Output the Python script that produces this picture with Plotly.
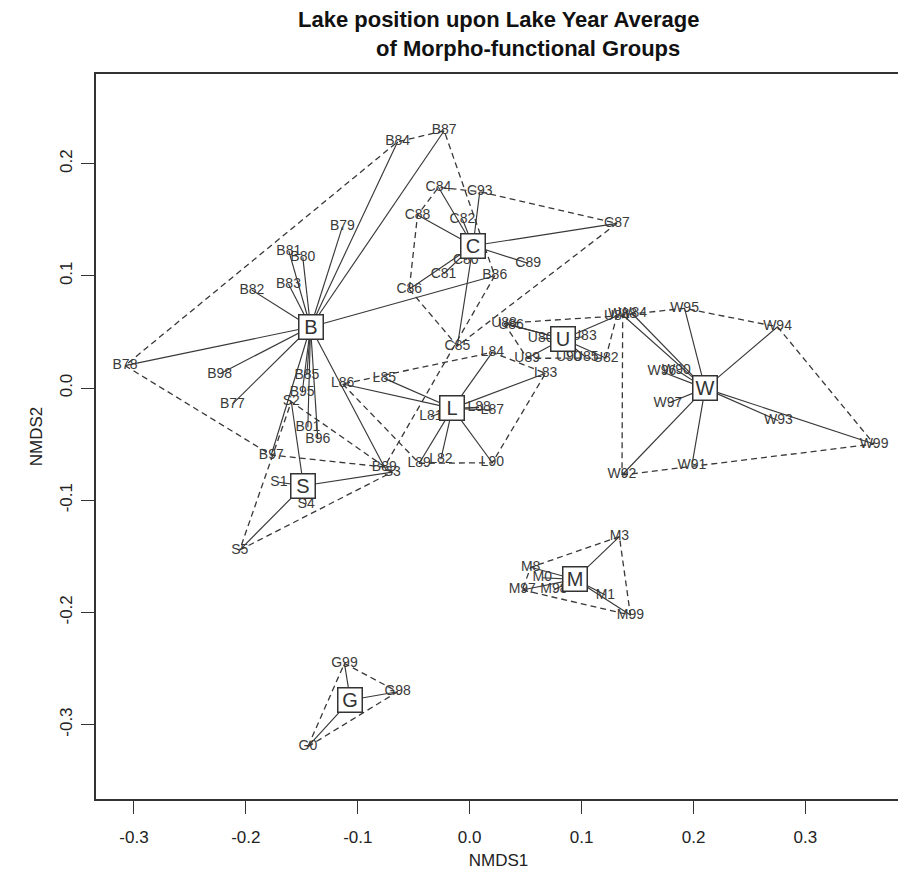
import plotly.graph_objects as go

# ---------------- data (NMDS scores) ----------------
B_labels = ["B78", "B84", "B87", "B86", "B79", "B81", "B80", "B83", "B82", "B98", "B77",
            "B85", "B95", "B01", "B96", "B97", "B89"]
B_x = [-0.308, -0.0644, -0.0228, 0.0224, -0.1137, -0.1616, -0.1491, -0.1619, -0.1946, -0.2234,
       -0.2120, -0.1455, -0.1497, -0.1446, -0.1357, -0.1773, -0.0763]
B_y = [0.020, 0.2195, 0.2293, 0.1001, 0.1438, 0.1221, 0.1165, 0.0927, 0.0873, 0.0125,
       -0.0143, 0.0116, -0.0042, -0.0350, -0.0457, -0.0597, -0.0704]

C_labels = ["C84", "C93", "C88", "C82", "C87", "C89", "C80", "C81", "C86", "C85"]
C_x = [-0.0279, 0.0090, -0.0466, -0.0065, 0.1316, 0.0523, -0.0035, -0.0234, -0.0540, -0.0110]
C_y = [0.1789, 0.1750, 0.1542, 0.1504, 0.1468, 0.1111, 0.1141, 0.1016, 0.0880, 0.0374]

U_labels = ["U88", "U86", "U80", "U83", "U89", "U90", "U85", "U82", "U84"]
U_x = [0.0307, 0.0369, 0.0634, 0.1020, 0.0514, 0.0885, 0.1036, 0.1216, 0.1314]
U_y = [0.0577, 0.0561, 0.0443, 0.0457, 0.0265, 0.0276, 0.0276, 0.0267, 0.0642]

W_labels = ["W88", "W84", "W95", "W94", "W96", "W90", "W97", "W93", "W99", "W91", "W92"]
W_x = [0.1367, 0.1456, 0.1920, 0.2751, 0.1717, 0.1848, 0.1771, 0.2758, 0.3613, 0.1985, 0.1361]
W_y = [0.0651, 0.0660, 0.0710, 0.0546, 0.0145, 0.0160, -0.0136, -0.0291, -0.0499, -0.0693, -0.0775]

L_labels = ["L84", "L83", "L86", "L85", "L81", "L88", "L87", "L89", "L82", "L90"]
L_x = [0.0202, 0.0678, -0.1135, -0.0763, -0.0347, 0.0084, 0.0202, -0.0451, -0.0258, 0.0202]
L_y = [0.0318, 0.0131, 0.0036, 0.0086, -0.0256, -0.0172, -0.0196, -0.0671, -0.0635, -0.0666]

S_labels = ["S1", "S2", "S3", "S4", "S5"]
S_x = [-0.1705, -0.1594, -0.0692, -0.1461, -0.2055]
S_y = [-0.0840, -0.0122, -0.0749, -0.1034, -0.1444]

M_labels = ["M3", "M8", "M0", "M97", "M98", "M1", "M99"]
M_x = [0.1338, 0.0545, 0.0648, 0.0470, 0.0752, 0.1213, 0.1436]
M_y = [-0.1325, -0.1598, -0.1691, -0.1800, -0.1800, -0.1845, -0.2023]

G_labels = ["G99", "G98", "G0"]
G_x = [-0.1119, -0.0644, -0.1446]
G_y = [-0.2454, -0.2707, -0.3197]

group_names = ["B", "C", "U", "W", "L", "S", "M", "G"]
centroid_x = [-0.1422, 0.0030, 0.0835, 0.2104, -0.0154, -0.1485, 0.0939, -0.1066]
centroid_y = [0.0544, 0.1268, 0.0437, -0.0003, -0.0181, -0.0871, -0.1705, -0.2781]

x_ticks = [-0.3, -0.2, -0.1, 0.0, 0.1, 0.2, 0.3]
y_ticks = [-0.3, -0.2, -0.1, 0.0, 0.1, 0.2]
tick_text_x = ["-0.3", "-0.2", "-0.1", "0.0", "0.1", "0.2", "0.3"]
tick_text_y = ["-0.3", "-0.2", "-0.1", "0.0", "0.1", "0.2"]

groups = {
    "B": (B_labels, B_x, B_y), "C": (C_labels, C_x, C_y), "U": (U_labels, U_x, U_y),
    "W": (W_labels, W_x, W_y), "L": (L_labels, L_x, L_y), "S": (S_labels, S_x, S_y),
    "M": (M_labels, M_x, M_y), "G": (G_labels, G_x, G_y),
}

# ---------------- helpers ----------------
def convex_hull(pts):
    pts = sorted(set(pts))
    if len(pts) <= 2:
        return pts
    def cross(o, a, b):
        return (a[0] - o[0]) * (b[1] - o[1]) - (a[1] - o[1]) * (b[0] - o[0])
    lower, upper = [], []
    for p in pts:
        while len(lower) >= 2 and cross(lower[-2], lower[-1], p) <= 0:
            lower.pop()
        lower.append(p)
    for p in reversed(pts):
        while len(upper) >= 2 and cross(upper[-2], upper[-1], p) <= 0:
            upper.pop()
        upper.append(p)
    return lower[:-1] + upper[:-1]

LINE_COL = "#383838"
TEXT_COL = "#3a3a3a"
FONT = "Liberation Sans, Arial, sans-serif"

fig = go.Figure()

for gi, g in enumerate(group_names):
    labels, xs, ys = groups[g]
    cx, cy = centroid_x[gi], centroid_y[gi]
    hull = convex_hull(list(zip(xs, ys)))
    hx = [p[0] for p in hull] + [hull[0][0]]
    hy = [p[1] for p in hull] + [hull[0][1]]
    fig.add_trace(go.Scatter(x=hx, y=hy, mode="lines",
                             line=dict(color=LINE_COL, width=1.3, dash="6px,4px"),
                             hoverinfo="skip", showlegend=False))
    sx, sy = [], []
    for x, y in zip(xs, ys):
        sx += [cx, x, None]
        sy += [cy, y, None]
    fig.add_trace(go.Scatter(x=sx, y=sy, mode="lines",
                             line=dict(color=LINE_COL, width=1.15),
                             hoverinfo="skip", showlegend=False))

for g in group_names:
    labels, xs, ys = groups[g]
    fig.add_trace(go.Scatter(x=xs, y=ys, mode="text", text=labels,
                             textposition="middle center",
                             textfont=dict(family=FONT, size=14, color=TEXT_COL),
                             hoverinfo="skip", showlegend=False))

# page body has an 8px default margin: the figure is made 8px smaller and
# the plot area is placed so that it lands at x 96..903, y 74..799 in the window
PAGE_OFF = 8
W_FIG, H_FIG = 906 - PAGE_OFF, 886 - PAGE_OFF
M_L, M_R, M_T, M_B = 96 - PAGE_OFF, 3, 74 - PAGE_OFF, 87
PLOT_W = W_FIG - M_L - M_R
PLOT_H = H_FIG - M_T - M_B

annotations = []
for gi, g in enumerate(group_names):
    annotations.append(dict(x=centroid_x[gi], y=centroid_y[gi], xref="x", yref="y",
                            text=g, showarrow=False,
                            font=dict(family=FONT, size=20, color="#333333"),
                            bgcolor="white", bordercolor="#333333", borderwidth=1.5,
                            borderpad=1, width=21, height=21,
                            xanchor="center", yanchor="middle"))

def paper_y(py):
    return (799 - py) / PLOT_H

def paper_x(px):
    return (px - 96) / PLOT_W

annotations.append(dict(x=paper_x(499.5), y=paper_y(20), xref="paper", yref="paper",
                        showarrow=False,
                        text="<b>Lake position upon Lake Year Average</b>",
                        font=dict(family=FONT, size=22, color="#111111"),
                        xanchor="center", yanchor="middle"))
annotations.append(dict(x=paper_x(529.5), y=paper_y(48), xref="paper", yref="paper",
                        showarrow=False,
                        text="<b>of Morpho-functional Groups</b>",
                        font=dict(family=FONT, size=22, color="#111111"),
                        xanchor="center", yanchor="middle"))

axis_common = dict(showgrid=False, zeroline=False, showline=True, mirror=True,
                   linecolor="#333333", linewidth=1.5, ticks="outside", ticklen=13,
                   tickwidth=1.3, tickcolor="#333333",
                   tickfont=dict(family=FONT, size=17, color="#222222"))

fig.update_layout(
    width=W_FIG, height=H_FIG,
    margin=dict(l=M_L, r=M_R, t=M_T, b=M_B),
    plot_bgcolor="white", paper_bgcolor="white",
    xaxis=dict(range=[-0.3339, 0.3854], tickvals=x_ticks, ticktext=tick_text_x,
               ticklabelstandoff=9,
               title=dict(text="NMDS1", font=dict(family=FONT, size=17, color="#222222"),
                          standoff=8),
               **axis_common),
    yaxis=dict(range=[-0.3663, 0.2799], tickvals=y_ticks, ticktext=tick_text_y,
               tickangle=-90, ticklabelstandoff=2,
               title=dict(text="NMDS2", font=dict(family=FONT, size=17, color="#222222"),
                          standoff=11),
               **axis_common),
    annotations=annotations,
)

fig.write_html("out.html")
